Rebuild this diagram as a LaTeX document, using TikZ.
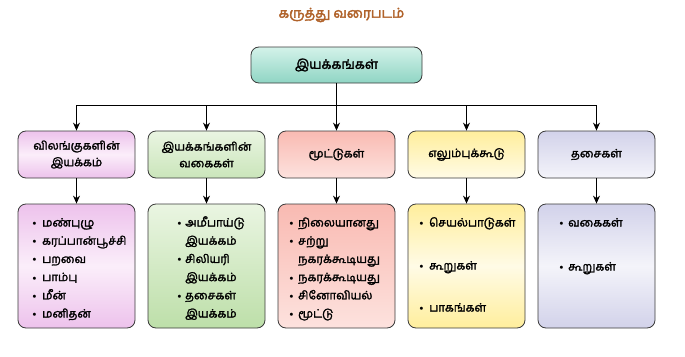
\documentclass[tikz,border=0pt]{standalone}
\usepackage{fontspec}
\usetikzlibrary{arrows.meta}
\newfontfamily\ta[Script=Tamil, FakeBold=2]{Hind Madurai}
\newfontfamily\tab[Script=Tamil, FakeBold=3]{Hind Madurai}
\definecolor{titlec}{HTML}{B0622A}
\definecolor{edge}{HTML}{3A3A3A}
\definecolor{rootA}{HTML}{D4F2E9}
\definecolor{rootB}{HTML}{8FD5C4}
\definecolor{pinkA}{HTML}{EDC2EC}
\definecolor{pinkL}{HTML}{FBEEFA}
\definecolor{greenA}{HTML}{BDDFA9}
\definecolor{greenL}{HTML}{EAF5E2}
\definecolor{salA}{HTML}{F9BAB2}
\definecolor{salL}{HTML}{FDE2DE}
\definecolor{yelA}{HTML}{FFEE9C}
\definecolor{yelL}{HTML}{FFFBE6}
\definecolor{lavA}{HTML}{D2D2EA}
\definecolor{lavL}{HTML}{F4F4FA}
\newcommand{\bul}[5]{\node[listtxt] (#1) at (#2,#3) {\hbox to #4pt{\rmfamily\textbullet\hss}#5};}
\newcommand{\cont}[4]{\node[listtxt] (#1) at (#2,#3) {#4};}
\begin{document}
\begin{tikzpicture}[x=1pt,y=-1pt,
  box/.style={draw=edge, line width=0.8pt, rounded corners=8pt, shading angle=0},
  lvltwo/.style={box, minimum width=117pt, minimum height=47pt, align=center, inner sep=0pt,
    font=\ta\fontsize{11.5}{16.6}\selectfont},
  lvlthree/.style={box, minimum width=117pt, minimum height=124pt, inner sep=0pt},
  listtxt/.style={anchor=west, inner sep=0pt, text height=8pt, text depth=1pt,
    font=\ta\fontsize{11.5}{13}\selectfont},
  conn/.style={draw=black, line width=0.8pt},
  arr/.style={conn, -{Stealth[length=8pt,width=7pt]}}]
\useasboundingbox (0,0) rectangle (685,356);
\node[font=\tab\fontsize{13.5}{15}\selectfont, text=titlec] (title) at (341.5,15) {கருத்து வரைபடம்};
\node[box, minimum width=171pt, minimum height=36pt, top color=rootA, bottom color=rootB,
  font=\ta\fontsize{13}{15}\selectfont] (root) at (336.5,65) {இயக்கங்கள்};
% level two
\node[lvltwo, top color=pinkA, bottom color=pinkA, middle color=pinkL] (b1) at (76.5,154.5) {விலங்குகளின்\\இயக்கம்};
\node[lvltwo, top color=greenL, bottom color=greenA!80] (b2) at (206.5,154.5) {இயக்கங்களின்\\வகைகள்};
\node[lvltwo, top color=salA, bottom color=salL] (b3) at (336.5,154.5) {மூட்டுகள்};
\node[lvltwo, top color=yelA, bottom color=yelL] (b4) at (466.5,154.5) {எலும்புக்கூடு};
\node[lvltwo, top color=lavA, bottom color=lavL] (b5) at (596.5,154.5) {தசைகள்};
% level three
\node[lvlthree, top color=pinkA, bottom color=pinkA, middle color=pinkL] (c1) at (76.5,266) {};
\node[lvlthree, top color=greenL, bottom color=greenA] (c2) at (206.5,266) {};
\node[lvlthree, top color=salA, bottom color=salL] (c3) at (336.5,266) {};
\node[lvlthree, top color=yelA, bottom color=yelA, middle color=yelL] (c4) at (466.5,266) {};
\node[lvlthree, top color=lavA, bottom color=lavA, middle color=lavL] (c5) at (596.5,266) {};
% connectors
\coordinate (bus) at (336.5,105);
\draw[conn] (root.south) -- (bus);
\foreach \i in {1,...,5}{
  \draw[arr] (bus) -| (b\i.north);
  \draw[arr] (b\i.south) -- (c\i.north);
}
% lists
\bul{a1}{30}{223}{12}{மண்புழு}
\bul{a2}{30}{241.2}{12}{கரப்பான்பூச்சி}
\bul{a3}{30}{259.4}{12}{பறவை}
\bul{a4}{30}{277.6}{12}{பாம்பு}
\bul{a5}{30}{295.8}{12}{மீன்}
\bul{a6}{30}{314}{12}{மனிதன்}
\bul{e1}{175}{223}{10}{அமீபாய்டு}
\cont{e2}{185}{241.2}{இயக்கம்}
\bul{e3}{175}{259.4}{10}{சிலியரி}
\cont{e4}{185}{277.6}{இயக்கம்}
\bul{e5}{175}{295.8}{10}{தசைகள்}
\cont{e6}{185}{314}{இயக்கம்}
\bul{f1}{287}{223}{11}{நிலையானது}
\bul{f2}{287}{241.2}{11}{சற்று}
\cont{f3}{298}{259.4}{நகரக்கூடியது}
\bul{f4}{287}{277.6}{11}{நகரக்கூடியது}
\bul{f5}{287}{295.8}{11}{சினோவியல்}
\bul{f6}{287}{314}{11}{மூட்டு}
\bul{g1}{417}{223}{12}{செயல்பாடுகள்}
\bul{g2}{417}{266}{12}{கூறுகள்}
\bul{g3}{417}{308}{12}{பாகங்கள்}
\bul{h1}{557}{223}{11}{வகைகள்}
\bul{h2}{557}{267}{11}{கூறுகள்}
\end{tikzpicture}
\end{document}
